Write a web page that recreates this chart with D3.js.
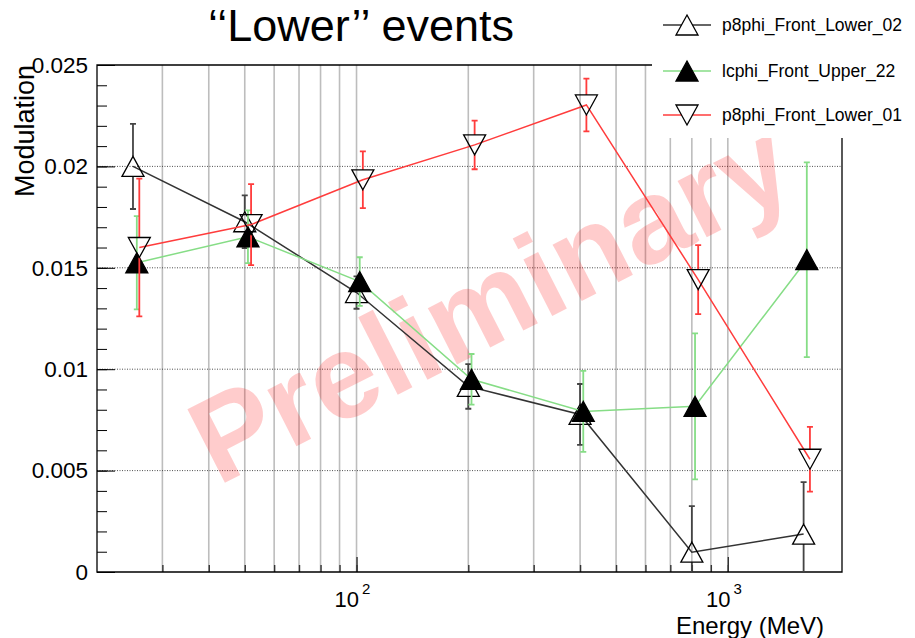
<!DOCTYPE html>
<html>
<head>
<meta charset="utf-8">
<script src="https://cdn.jsdelivr.net/npm/d3@7/dist/d3.min.js"></script>
<style>
  body { margin: 0; background: #fff; }
  text { font-family: "Liberation Sans", Arial, sans-serif; }
</style>
</head>
<body>
<svg id="chart" width="915" height="638"></svg>
<script>
// values
const energyLower02 = [25, 50, 100, 200, 400, 800, 1600];
const modLower02    = [0.0200, 0.01727, 0.01378, 0.00915, 0.00777, 0.00098, 0.00187];
const errLower02    = [0.0021, 0.0013, 0.0008, 0.0011, 0.0015, 0.00227, 0.00256];

const energyUpper22 = [25.6, 51, 102, 204, 408, 816, 1632];
const modUpper22    = [0.01525, 0.01653, 0.01432, 0.0095, 0.00792, 0.00817, 0.0154];
const errUpper22    = [0.0023, 0.0013, 0.0012, 0.00125, 0.002, 0.0036, 0.0048];

const energyLower01 = [26, 52, 104, 208, 416, 832, 1664];
const modLower01    = [0.0160, 0.01713, 0.01934, 0.02106, 0.02303, 0.01442, 0.00556];
const errLower01    = [0.0034, 0.002, 0.0014, 0.0012, 0.0013, 0.0017, 0.0016];

const seriesNames = ["p8phi_Front_Lower_02", "lcphi_Front_Upper_22", "p8phi_Front_Lower_01"];
const yTickValues = [0, 0.005, 0.01, 0.015, 0.02, 0.025];
const xLabelValues = [100, 1000];

const series = [
  {name: seriesNames[0], e: energyLower02, v: modLower02, err: errLower02, line: "#333333", bar: "#444444", marker: "up", filled: false},
  {name: seriesNames[1], e: energyUpper22, v: modUpper22, err: errUpper22, line: "#86dd86", bar: "#86dd86", marker: "up", filled: true},
  {name: seriesNames[2], e: energyLower01, v: modLower01, err: errLower01, line: "#ff3c3c", bar: "#ff3c3c", marker: "down", filled: false}
];

const svg = d3.select("#chart");
const plotL = 97, plotR = 842, plotT = 65, plotB = 572;

const x = d3.scaleLog().domain([20, 2030]).range([plotL, plotR]);
const y = d3.scaleLinear().domain([0, 0.025]).range([plotB, plotT]);

svg.append("defs").append("clipPath").attr("id", "plotclip")
   .append("rect").attr("x", plotL).attr("y", plotT)
   .attr("width", plotR - plotL).attr("height", plotB - plotT);

// vertical grid at every log tick
const xTicks = x.ticks().filter(d => d > 20 && d < 2000);
svg.append("g").selectAll("line").data(xTicks).enter().append("line")
   .attr("x1", d => x(d)).attr("x2", d => x(d))
   .attr("y1", plotT).attr("y2", plotB)
   .attr("stroke", "#bdbdbd").attr("stroke-width", 1.6);

// horizontal dotted grid
svg.append("g").selectAll("line").data(yTickValues.filter(d => d > 0 && d < 0.025)).enter().append("line")
   .attr("x1", plotL).attr("x2", plotR)
   .attr("y1", d => y(d)).attr("y2", d => y(d))
   .attr("stroke", "#222").attr("stroke-width", 0.8).attr("stroke-dasharray", "1,1.5");

// watermark
svg.append("text")
   .attr("transform", "translate(509,338) rotate(-27)")
   .attr("text-anchor", "middle")
   .attr("font-weight", "bold")
   .attr("font-size", 120)
   .attr("fill", "#ff0000").attr("fill-opacity", 0.2)
   .text("Preliminary");

// axes
const yAxis = d3.axisLeft(y).tickValues(yTickValues).tickSize(-18).tickPadding(9)
   .tickFormat(d => d === 0 ? "0" : String(+d.toFixed(3)));
const gy = svg.append("g").attr("transform", `translate(${plotL},0)`).call(yAxis);
gy.select(".domain").remove();
gy.selectAll("text").attr("font-size", 22.5).attr("font-family", "Liberation Sans, Arial, sans-serif").attr("fill", "#000");
gy.selectAll("line").attr("stroke", "#000");

const yMinor = d3.axisLeft(y).tickValues(d3.range(0, 0.0251, 0.001)).tickSize(-10).tickFormat("");
const gym = svg.append("g").attr("transform", `translate(${plotL},0)`).call(yMinor);
gym.select(".domain").remove();

const xMinor = d3.axisBottom(x).tickValues(xTicks).tickSize(-7).tickFormat("");
const gxm = svg.append("g").attr("transform", `translate(0,${plotB})`).call(xMinor);
gxm.select(".domain").remove();
gxm.selectAll("line").attr("stroke", "#333").attr("stroke-width", 1.4);

const xMajor = d3.axisBottom(x).tickValues(xLabelValues).tickSize(-15).tickFormat("");
const gxM = svg.append("g").attr("transform", `translate(0,${plotB})`).call(xMajor);
gxM.select(".domain").remove();
gxM.selectAll("line").attr("stroke", "#333").attr("stroke-width", 1.4);

// 10^n labels
xLabelValues.forEach(v => {
  const t = svg.append("text").attr("x", x(v) - 4).attr("y", 607)
     .attr("text-anchor", "middle").attr("font-size", 22);
  t.append("tspan").text("10");
  t.append("tspan").attr("dy", -13).attr("dx", 3).attr("font-size", 15).text(String(Math.log10(v)));
});

// frame
svg.append("path")
   .attr("d", `M${plotL},${plotT}H${plotR}V${plotB}H${plotL}Z`)
   .attr("fill", "none").attr("stroke", "#000").attr("stroke-width", 1.3);

// markers
function markerPath(kind) {
  return kind === "up" ? "M0,-10L11,10L-11,10Z" : "M0,10L11,-10L-11,-10Z";
}

const plot = svg.append("g").attr("clip-path", "url(#plotclip)");
const line = d3.line().x(d => x(d[0])).y(d => y(d[1]));

series.forEach(s => {
  const pts = s.e.map((e, i) => [e, s.v[i], s.err[i]]);
  const g = plot.append("g");

  // error bars (gap where the marker sits)
  pts.forEach(p => {
    const cx = x(p[0]), cy = y(p[1]);
    const yt = y(p[1] + p[2]), yb = y(p[1] - p[2]);
    g.append("path")
     .attr("d", `M${cx},${yt}V${cy - 10}M${cx},${cy + 10}V${yb}M${cx - 3},${yt}H${cx + 3}M${cx - 3},${yb}H${cx + 3}`)
     .attr("fill", "none").attr("stroke", s.bar).attr("stroke-width", 1.8);
  });

  g.append("path").datum(pts).attr("d", line)
   .attr("fill", "none").attr("stroke", s.line).attr("stroke-width", 1.5);

  g.selectAll(".mk").data(pts).enter().append("path")
   .attr("class", "mk")
   .attr("transform", d => `translate(${x(d[0])},${y(d[1])})`)
   .attr("d", markerPath(s.marker))
   .attr("fill", s.filled ? "#000" : "none")
   .attr("stroke", "#000").attr("stroke-width", 1.3);
});

// legend box covers the top right of the frame
svg.append("rect").attr("x", 652).attr("y", 0).attr("width", 263).attr("height", 138).attr("fill", "#fff");
const legendY = [25, 71, 115];
series.forEach((s, i) => {
  const ly = legendY[i];
  svg.append("line").attr("x1", 663).attr("x2", 711).attr("y1", ly).attr("y2", ly)
     .attr("stroke", s.line).attr("stroke-width", 1.5);
  svg.append("path").attr("transform", `translate(687,${ly})`)
     .attr("d", markerPath(s.marker))
     .attr("fill", s.filled ? "#000" : "#fff")
     .attr("stroke", "#000").attr("stroke-width", 1.3);
  svg.append("text").attr("x", 722).attr("y", ly + 6).attr("font-size", 17.5).text(s.name);
});

// titles
svg.append("text").attr("x", 361).attr("y", 41).attr("text-anchor", "middle")
   .attr("font-size", 45).text("\u2018\u2018Lower\u2019\u2019 events");

svg.append("text").attr("transform", "translate(34,65) rotate(-90)")
   .attr("text-anchor", "end").attr("font-size", 27).text("Modulation");

svg.append("text").attr("x", 824).attr("y", 634).attr("text-anchor", "end")
   .attr("font-size", 24).text("Energy (MeV)");
</script>
</body>
</html>
